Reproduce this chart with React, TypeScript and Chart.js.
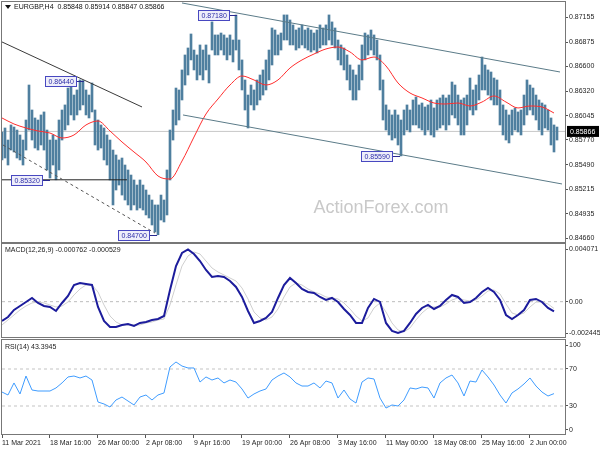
import { useEffect, useRef } from 'react';
import { Chart, registerables } from 'chart.js';
Chart.register(...registerables);

const FONT = '"Liberation Sans", Arial, sans-serif';
const TEXT = '#1e1e1e';
const FS = 7;

// ---------- data ----------
const symbol = 'EURGBP,H4';
const lastOhlc = [0.85848, 0.85914, 0.85847, 0.85866];
const lastClose = lastOhlc[3];

const xTickLabels = ['11 Mar 2021', '18 Mar 16:00', '26 Mar 00:00', '2 Apr 08:00', '9 Apr 16:00', '19 Apr 00:00',
  '26 Apr 08:00', '3 May 16:00', '11 May 00:00', '18 May 08:00', '25 May 16:00', '2 Jun 00:00'];
const X_TICK_STEP = 16; // bars between time labels
const X_MAX = 187.667;

const priceTicks = [0.84660, 0.84935, 0.85215, 0.85490, 0.85770, 0.86045, 0.86320, 0.86600, 0.86875, 0.87155];
const macdTicks = [-0.002445, 0, 0.004071];
const rsiLevels = [0, 30, 70, 100];

const highs = [
  0.85860, 0.85905, 0.85769, 0.85939, 0.85916, 0.85882, 0.85826, 0.85769, 0.85995, 0.86390,
  0.86108, 0.86018, 0.85995, 0.86052, 0.86086, 0.85882, 0.85769, 0.85826, 0.85769, 0.85995,
  0.86108, 0.86165, 0.86356, 0.86447, 0.86277, 0.86334, 0.86447, 0.86440, 0.86334, 0.86277,
  0.86413, 0.86108, 0.85995, 0.85939, 0.85905, 0.85826, 0.85769, 0.85656, 0.85600, 0.85544,
  0.85566, 0.85487, 0.85431, 0.85374, 0.85318, 0.85261, 0.85318, 0.85261, 0.85205, 0.85148,
  0.85092, 0.85036, 0.85036, 0.85148, 0.85092, 0.85431, 0.85882, 0.86108, 0.86356, 0.86334,
  0.86560, 0.86729, 0.86808, 0.86966, 0.86785, 0.86729, 0.86842, 0.86785, 0.86842, 0.86729,
  0.87102, 0.86955, 0.86955, 0.86977, 0.86955, 0.86921, 0.86955, 0.86898, 0.87180, 0.86898,
  0.86673, 0.86447, 0.86277, 0.86390, 0.86334, 0.86447, 0.86503, 0.86560, 0.86673, 0.86785,
  0.87034, 0.87011, 0.86955, 0.86977, 0.87181, 0.87181, 0.87124, 0.87068, 0.87011, 0.87034,
  0.87068, 0.87011, 0.87034, 0.87011, 0.86977, 0.87011, 0.87068, 0.87034, 0.87068, 0.87181,
  0.87102, 0.87034, 0.86898, 0.86842, 0.86808, 0.86729, 0.86616, 0.86560, 0.86503, 0.86616,
  0.86842, 0.86977, 0.86955, 0.87011, 0.86955, 0.86898, 0.86729, 0.86447, 0.86165, 0.86108,
  0.86052, 0.86108, 0.86052, 0.85995, 0.86108, 0.86165, 0.86108, 0.86221, 0.86255, 0.86165,
  0.86187, 0.86142, 0.86165, 0.86221, 0.86131, 0.86221, 0.86244, 0.86277, 0.86244, 0.86277,
  0.86424, 0.86390, 0.86277, 0.86221, 0.86244, 0.86277, 0.86469, 0.86334, 0.86390, 0.86503,
  0.86706, 0.86616, 0.86560, 0.86537, 0.86469, 0.86447, 0.86334, 0.86165, 0.86108, 0.86052,
  0.86108, 0.86131, 0.86086, 0.86108, 0.86277, 0.86447, 0.86390, 0.86356, 0.86277, 0.86221,
  0.86187, 0.86165, 0.86108, 0.86018, 0.85939, 0.85916,
];
const lows = [
  0.85544, 0.85566, 0.85487, 0.85656, 0.85634, 0.85566, 0.85544, 0.85487, 0.85656, 0.85882,
  0.85769, 0.85679, 0.85656, 0.85713, 0.85656, 0.85431, 0.85340, 0.85487, 0.85320, 0.85431,
  0.85769, 0.85882, 0.85939, 0.86052, 0.85995, 0.86052, 0.86108, 0.86165, 0.86052, 0.86018,
  0.86086, 0.85713, 0.85656, 0.85679, 0.85544, 0.85487, 0.85318, 0.85036, 0.85205, 0.85261,
  0.85148, 0.85092, 0.85036, 0.84979, 0.85036, 0.84979, 0.85002, 0.84979, 0.84923, 0.84889,
  0.84810, 0.84731, 0.84700, 0.84866, 0.84844, 0.84923, 0.85318, 0.85769, 0.85939, 0.85995,
  0.86221, 0.86390, 0.86503, 0.86673, 0.86560, 0.86447, 0.86503, 0.86447, 0.86560, 0.86413,
  0.86785, 0.86729, 0.86729, 0.86785, 0.86729, 0.86673, 0.86729, 0.86650, 0.86785, 0.86560,
  0.86334, 0.86108, 0.85905, 0.86165, 0.86108, 0.86165, 0.86221, 0.86277, 0.86334, 0.86447,
  0.86616, 0.86729, 0.86729, 0.86785, 0.86898, 0.86898, 0.86842, 0.86842, 0.86785, 0.86808,
  0.86842, 0.86808, 0.86785, 0.86763, 0.86785, 0.86752, 0.86808, 0.86842, 0.86842, 0.86898,
  0.86842, 0.86808, 0.86673, 0.86616, 0.86560, 0.86447, 0.86334, 0.86221, 0.86221, 0.86334,
  0.86447, 0.86673, 0.86729, 0.86785, 0.86729, 0.86673, 0.86334, 0.85995, 0.85882, 0.85826,
  0.85769, 0.85792, 0.85713, 0.85590, 0.85826, 0.85882, 0.85860, 0.85939, 0.85939, 0.85905,
  0.85882, 0.85826, 0.85882, 0.85826, 0.85803, 0.85882, 0.85905, 0.85939, 0.85882, 0.85939,
  0.86052, 0.86018, 0.85939, 0.85826, 0.85826, 0.85939, 0.86108, 0.86052, 0.86108, 0.86221,
  0.86334, 0.86334, 0.86277, 0.86221, 0.86165, 0.86165, 0.85939, 0.85826, 0.85769, 0.85736,
  0.85826, 0.85882, 0.85860, 0.85826, 0.85939, 0.86052, 0.86108, 0.86052, 0.85995, 0.85882,
  0.85826, 0.85905, 0.85882, 0.85713, 0.85634, 0.85769,
];

const MA_STEP = 4;
const maValues = [
  0.86018, 0.85950, 0.85905, 0.85871, 0.85848, 0.85792, 0.85826, 0.85939, 0.85984, 0.85871,
  0.85747, 0.85634, 0.85521, 0.85363, 0.85329, 0.85532, 0.85803, 0.86063, 0.86232, 0.86390,
  0.86492, 0.86447, 0.86390, 0.86447, 0.86582, 0.86673, 0.86740, 0.86797, 0.86819, 0.86763,
  0.86673, 0.86706, 0.86605, 0.86413, 0.86300, 0.86244, 0.86187, 0.86176, 0.86187, 0.86153,
  0.86198, 0.86266, 0.86198, 0.86131, 0.86153, 0.86142, 0.86074,
];

const IND_STEP = 2;
const macdMain = [
  -0.001506, -0.001194, -0.000648, -0.000336, -0.000024, 0.000288, -0.000102, -0.000336, -0.000414, -0.000726,
  -0.000102, 0.000444, 0.001302, 0.001458, 0.001380, 0.001302, -0.000414, -0.001506, -0.001974, -0.001974,
  -0.001818, -0.001740, -0.001896, -0.001662, -0.001584, -0.001428, -0.001350, -0.001116, 0.000912, 0.002784,
  0.003798, 0.004071, 0.003720, 0.003174, 0.002472, 0.001926, 0.002004, 0.001926, 0.001614, 0.001146,
  0.000366, -0.000726, -0.001662, -0.001506, -0.001272, -0.000804, 0.000288, 0.001302, 0.001848, 0.001458,
  0.000990, 0.000756, 0.000678, 0.000366, 0.000132, 0.000288, -0.000024, -0.000570, -0.001038, -0.001662,
  -0.001662, -0.000492, 0.000210, -0.000024, -0.001662, -0.002286, -0.002445, -0.002286, -0.001662, -0.000960,
  -0.000492, -0.000258, -0.000570, -0.000336, 0.000132, 0.000522, 0.000366, -0.000102, -0.000024, 0.000288,
  0.000756, 0.001068, 0.000756, 0.000132, -0.001038, -0.001350, -0.001038, -0.000648, 0.000132, 0.000210,
  -0.000024, -0.000492, -0.000762,
];
const macdSignal = [
  -0.001818, -0.001428, -0.001038, -0.000648, -0.000336, -0.000102, -0.000024, -0.000102, -0.000258, -0.000414,
  -0.000336, -0.000024, 0.000522, 0.000990, 0.001302, 0.001302, 0.000756, -0.000258, -0.001116, -0.001584,
  -0.001818, -0.001818, -0.001818, -0.001818, -0.001662, -0.001584, -0.001428, -0.001350, -0.000258, 0.001302,
  0.002784, 0.003564, 0.003876, 0.003720, 0.003174, 0.002628, 0.002316, 0.002082, 0.001848, 0.001614,
  0.001068, 0.000210, -0.000804, -0.001272, -0.001428, -0.001194, -0.000570, 0.000366, 0.001146, 0.001458,
  0.001302, 0.000990, 0.000756, 0.000600, 0.000366, 0.000288, 0.000210, -0.000102, -0.000570, -0.001116,
  -0.001506, -0.001272, -0.000492, -0.000102, -0.000804, -0.001662, -0.002208, -0.002364, -0.002052, -0.001428,
  -0.000882, -0.000492, -0.000414, -0.000414, -0.000180, 0.000132, 0.000288, 0.000132, 0.000054, 0.000132,
  0.000444, 0.000834, 0.000912, 0.000600, -0.000180, -0.000882, -0.001038, -0.000882, -0.000414, -0.000024,
  -0.000024, -0.000180, -0.000529,
];
const rsiValues = [
  45.1, 41.9, 54.9, 43.0, 62.4, 47.3, 46.2, 46.2, 46.2, 49.5,
  54.9, 61.4, 62.4, 60.3, 62.4, 58.1, 34.3, 32.2, 28.9, 36.5,
  39.7, 35.4, 31.1, 39.7, 41.9, 36.5, 41.9, 44.1, 72.2, 77.6,
  73.2, 71.1, 71.1, 55.9, 61.4, 58.1, 60.3, 54.9, 58.1, 55.9,
  48.4, 38.6, 43.0, 46.2, 48.4, 58.1, 62.4, 65.7, 61.4, 54.9,
  51.6, 51.6, 54.9, 49.5, 57.0, 54.9, 38.6, 47.3, 37.6, 33.2,
  55.9, 60.3, 59.2, 38.6, 27.8, 31.1, 30.0, 36.5, 49.5, 48.4,
  50.5, 49.5, 38.6, 54.9, 60.3, 63.5, 54.9, 40.8, 57.0, 55.9,
  68.9, 61.4, 52.7, 41.9, 33.2, 44.1, 48.4, 53.8, 60.3, 51.6,
  45.1, 40.8, 43.3945,
];

// trend lines: [barIndex, price]
const upperChannel = [[60, 0.87316], [186, 0.86537]];
const lowerChannel = [[60.33, 0.86052], [186.67, 0.85273]];
const leftResistance = [[-0.33, 0.86881], [46.67, 0.86142]];
const leftDashed = [[0.33, 0.85713], [51, 0.84719]];
const supportLine = [[-0.33, 0.85320], [41.67, 0.85320]];

const priceLabels = [
  { idx: 27.3, price: 0.86440 },
  { idx: 16, price: 0.85320 },
  { idx: 51.7, price: 0.84700 },
  { idx: 78.3, price: 0.87180 },
  { idx: 132.7, price: 0.85590 },
];

// ---------- helpers ----------
const pts = (arr: number[][]) => arr.map(([x, y]) => ({ x, y }));
const series = (vals: number[], step: number) => vals.map((y, k) => ({ x: k * step, y }));

const frameBox = (ctx: CanvasRenderingContext2D, a: any) => {
  ctx.save();
  ctx.strokeStyle = '#777';
  ctx.lineWidth = 1;
  ctx.strokeRect(a.left - 0.5, a.top - 0.5, a.right - a.left + 1, a.bottom - a.top + 1);
  ctx.restore();
};

const yAxisBase = (ticksVals: number[] | ((s: any) => number[]), fmt: (v: number, i: number) => string) => ({
  position: 'right',
  afterBuildTicks: (s: any) => {
    const vals = typeof ticksVals === 'function' ? ticksVals(s) : ticksVals;
    s.ticks = vals.map((v) => ({ value: v }));
  },
  afterFit: (s: any) => { s.width = 35; s.paddingTop = 0; s.paddingBottom = 0; },
  ticks: { callback: (v: any, i: number) => fmt(Number(v), i), color: TEXT, font: { size: FS, family: FONT }, padding: 1, autoSkip: false },
  grid: { drawOnChartArea: false, drawTicks: true, tickLength: 3, tickColor: '#555' },
  border: { display: false },
});

const xHidden = { type: 'linear', min: 0, max: X_MAX, offset: false, display: false };

const lineDs = (data: any[], color: string, width: number, order: number, extra: any = {}) => ({
  type: 'line', data, borderColor: color, borderWidth: width, pointRadius: 0, fill: false, order, tension: 0, ...extra,
});

export default function App() {
  const mainRef = useRef<HTMLCanvasElement>(null);
  const macdRef = useRef<HTMLCanvasElement>(null);
  const rsiRef = useRef<HTMLCanvasElement>(null);

  useEffect(() => {
    const common = { responsive: false, animation: false, devicePixelRatio: 1, events: [], plugins: { legend: { display: false }, tooltip: { enabled: false } } };

    const mainDecor = {
      id: 'mainDecor',
      beforeDatasetsDraw(chart: any) {
        const { ctx, chartArea: a } = chart;
        ctx.save();
        ctx.fillStyle = '#c9c9c9';
        ctx.font = `18px "Liberation Sans", Arial, sans-serif`;
        ctx.textAlign = 'center';
        ctx.textBaseline = 'middle';
        ctx.fillText('ActionForex.com', a.left + 379, a.top + 206);
        ctx.restore();
      },
      afterDatasetsDraw(chart: any) {
        const { ctx, scales } = chart;
        ctx.save();
        ctx.font = `${FS}px ${FONT}`;
        ctx.textBaseline = 'middle';
        priceLabels.forEach((l) => {
          const px = scales.x.getPixelForValue(l.idx);
          const py = Math.round(scales.y.getPixelForValue(l.price)) + 0.5;
          const txt = l.price.toFixed(5);
          const w = Math.round(ctx.measureText(txt).width + 6);
          const right = Math.round(px - 8);
          const left = right - w + 0.5;
          ctx.strokeStyle = '#2a2a90';
          ctx.lineWidth = 1;
          ctx.beginPath(); ctx.moveTo(right, py); ctx.lineTo(px, py); ctx.stroke();
          ctx.fillStyle = '#eeeefa';
          ctx.fillRect(left, py - 5, w, 10);
          ctx.strokeStyle = '#4848c0';
          ctx.strokeRect(left, py - 5, w, 10);
          ctx.fillStyle = '#2c2ca8';
          ctx.textAlign = 'left';
          ctx.fillText(txt, left + 3, py + 0.5);
        });
        ctx.restore();
      },
      afterDraw(chart: any) {
        const { ctx, chartArea: a, scales } = chart;
        frameBox(ctx, a);
        ctx.save();
        // current price box
        const py = scales.y.getPixelForValue(lastClose);
        ctx.fillStyle = '#000';
        ctx.fillRect(a.right + 2, py - 5.5, 32, 11);
        ctx.fillStyle = '#fff';
        ctx.font = `${FS}px ${FONT}`;
        ctx.textBaseline = 'middle';
        ctx.textAlign = 'left';
        ctx.fillText(lastClose.toFixed(5), a.right + 5, py + 0.5);
        // title
        ctx.fillStyle = '#111';
        ctx.beginPath();
        ctx.moveTo(a.left + 3, a.top + 3); ctx.lineTo(a.left + 9, a.top + 3); ctx.lineTo(a.left + 6, a.top + 7); ctx.closePath();
        ctx.fill();
        ctx.font = `${FS}px ${FONT}`;
        ctx.fillText(`${symbol}  ${lastOhlc.map((v) => v.toFixed(5)).join(' ')}`, a.left + 12, a.top + 5.5);
        ctx.restore();
      },
    };

    const main = new Chart(mainRef.current!, {
      type: 'bar',
      data: {
        datasets: [
          lineDs(pts(upperChannel), '#5b7b88', 1, 1),
          lineDs(pts(lowerChannel), '#5b7b88', 1, 1),
          lineDs(pts(leftResistance), '#3a3a3a', 1, 1),
          lineDs(pts(leftDashed), '#555', 1, 1, { borderDash: [3, 3] }),
          lineDs(pts(supportLine), '#222', 1, 1),
          lineDs(series(maValues, MA_STEP), '#ff2d2d', 1, 5, { cubicInterpolationMode: 'monotone' }),
          { type: 'bar', data: highs.map((h, i) => ({ x: i, y: [lows[i], h] })), backgroundColor: '#4f7f9f', barThickness: 2, borderWidth: 0, grouped: false, order: 20 },
          lineDs([{ x: 0, y: lastClose }, { x: X_MAX, y: lastClose }], '#c8c8c8', 1, 30),
        ],
      },
      options: {
        ...common,
        layout: { padding: { left: 2, top: 2, right: 0, bottom: 1 } },
        scales: {
          x: xHidden,
          y: { ...yAxisBase(priceTicks, (v) => v.toFixed(5)), min: 0.84618, max: 0.87327 },
        },
      } as any,
      plugins: [mainDecor],
    } as any);

    const macdDecor = {
      id: 'macdDecor',
      afterDraw(chart: any) {
        const { ctx, chartArea: a } = chart;
        frameBox(ctx, a);
        ctx.save();
        ctx.fillStyle = '#222';
        ctx.font = `${FS}px ${FONT}`;
        ctx.textBaseline = 'middle';
        ctx.fillText(`MACD(12,26,9) ${macdMain[macdMain.length - 1].toFixed(6)} ${macdSignal[macdSignal.length - 1].toFixed(6)}`, a.left + 3, a.top + 6);
        ctx.restore();
      },
    };

    const macd = new Chart(macdRef.current!, {
      type: 'line',
      data: {
        datasets: [
          lineDs(series(macdMain, IND_STEP), '#1c1c9c', 2, 1),
          lineDs(series(macdSignal, IND_STEP), '#cfcfcf', 1, 2),
          lineDs([{ x: 0, y: 0 }, { x: X_MAX, y: 0 }], '#bdbdbd', 1, 5, { borderDash: [3, 3] }),
        ],
      },
      options: {
        ...common,
        layout: { padding: { left: 2, top: 1, right: 0, bottom: 1 } },
        scales: {
          x: xHidden,
          y: { ...yAxisBase(macdTicks, (v) => (v === 0 ? '0.00' : v.toFixed(6))), min: -0.002757, max: 0.0045 },
        },
      } as any,
      plugins: [macdDecor],
    } as any);

    const rsiDecor = {
      id: 'rsiDecor',
      afterDraw(chart: any) {
        const { ctx, chartArea: a } = chart;
        frameBox(ctx, a);
        ctx.save();
        ctx.fillStyle = '#222';
        ctx.font = `${FS}px ${FONT}`;
        ctx.textBaseline = 'middle';
        ctx.fillText(`RSI(14) ${rsiValues[rsiValues.length - 1].toFixed(4)}`, a.left + 3, a.top + 7);
        ctx.restore();
      },
    };

    const rsi = new Chart(rsiRef.current!, {
      type: 'line',
      data: {
        datasets: [
          lineDs(series(rsiValues, IND_STEP), '#3f9cff', 1, 1),
          lineDs([{ x: 0, y: rsiLevels[2] }, { x: X_MAX, y: rsiLevels[2] }], '#c4c4c4', 1, 5, { borderDash: [3, 3] }),
          lineDs([{ x: 0, y: rsiLevels[1] }, { x: X_MAX, y: rsiLevels[1] }], '#c4c4c4', 1, 5, { borderDash: [3, 3] }),
        ],
      },
      options: {
        ...common,
        layout: { padding: { left: 2, top: 2, right: 0, bottom: 0 } },
        scales: {
          x: {
            type: 'linear', min: 0, max: X_MAX, offset: false, position: 'bottom',
            afterBuildTicks: (s: any) => { s.ticks = xTickLabels.map((_, k) => ({ value: k * X_TICK_STEP })); },
            afterFit: (s: any) => { s.height = 16; s.paddingLeft = 0; s.paddingRight = 0; },
            ticks: { callback: (_v: any, i: number) => xTickLabels[i], align: 'start', maxRotation: 0, minRotation: 0, autoSkip: false, padding: 1, color: TEXT, font: { size: FS, family: FONT } },
            grid: { drawOnChartArea: false, drawTicks: true, tickLength: 4, tickColor: '#555' },
            border: { display: false },
          },
          y: {
            ...yAxisBase(
              () => rsiLevels.map((v) => (v === 0 ? v + 4.5 : v === 100 ? v - 4.5 : v)),
              (_v, i) => String(rsiLevels[i]),
            ),
            min: -0.27, max: 101.35,
          },
        },
      } as any,
      plugins: [rsiDecor],
    } as any);

    return () => { main.destroy(); macd.destroy(); rsi.destroy(); };
  }, []);

  const cv = (top: number, h: number) => ({ position: 'absolute' as const, left: 0, top, width: 600, height: h, display: 'block' });

  return (
    <div style={{ position: 'fixed', left: 0, top: 0, width: 600, height: 450, background: '#fff', overflow: 'hidden' }}>
      <canvas ref={mainRef} width={600} height={243} style={cv(0, 243)} />
      <canvas ref={macdRef} width={600} height={95} style={cv(243, 95)} />
      <canvas ref={rsiRef} width={600} height={112} style={cv(338, 112)} />
    </div>
  );
}
